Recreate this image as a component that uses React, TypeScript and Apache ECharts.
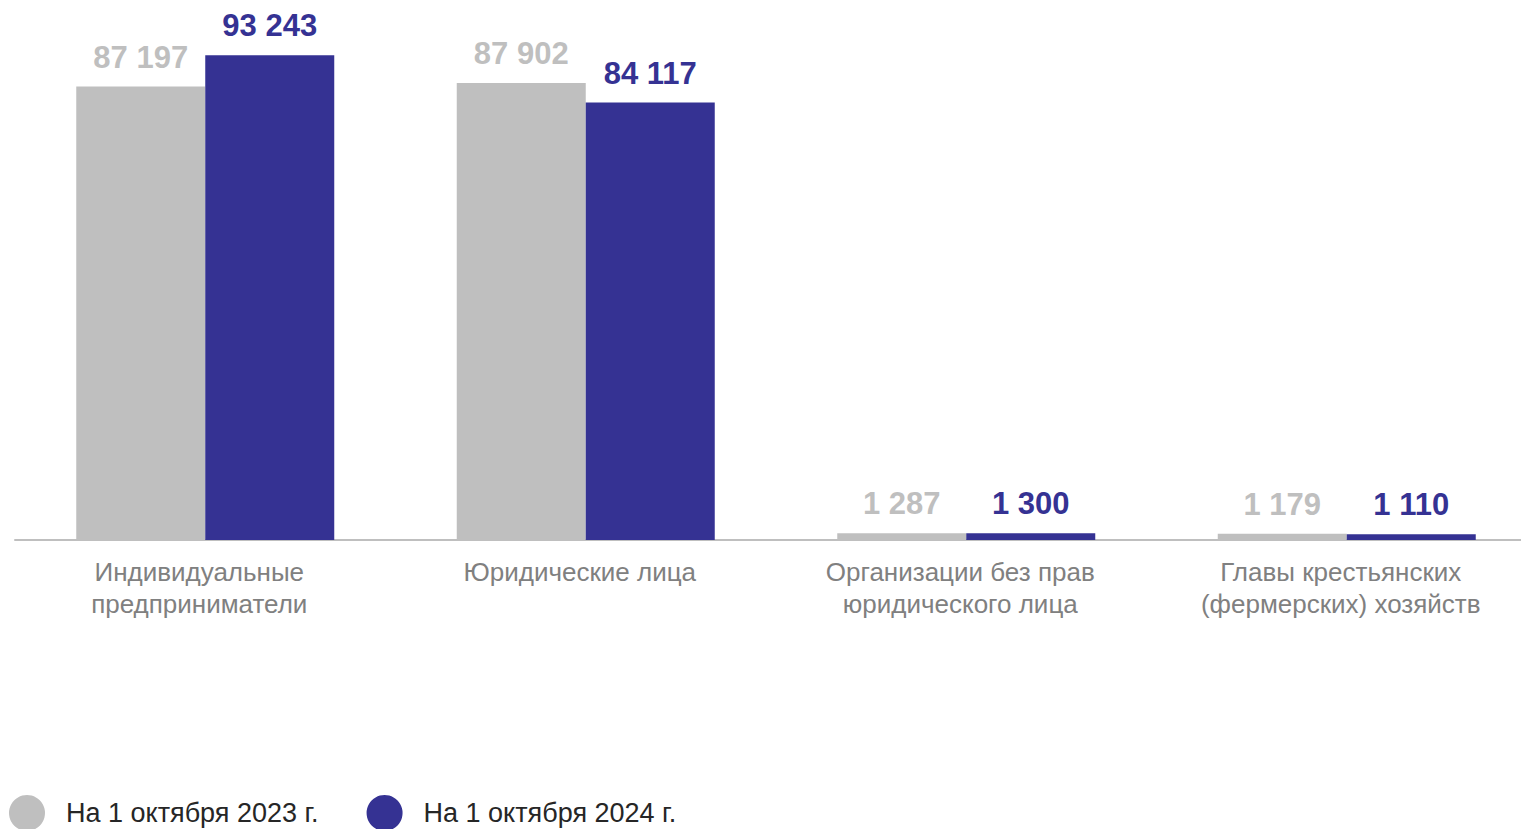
import React, { useEffect, useRef } from "react";
import * as echarts from "echarts";

const categories = [
  "Индивидуальные\nпредприниматели",
  "Юридические лица",
  "Организации без прав\nюридического лица",
  "Главы крестьянских\n(фермерских) хозяйств",
];
const series2023 = [87197, 87902, 1287, 1179];
const series2024 = [93243, 84117, 1300, 1110];
const seriesNames = ["На 1 октября 2023 г.", "На 1 октября 2024 г."];

const GRAY = "#BFBFBF";
const NAVY = "#353293";
const FONT = "'Liberation Sans', Arial, sans-serif";

const fmt = (v: number) => String(v).replace(/\B(?=(\d{3})+(?!\d))/g, " ");

export default function App() {
  const ref = useRef<HTMLDivElement>(null);
  useEffect(() => {
    if (!ref.current) return;
    const chart = echarts.init(ref.current, undefined, { renderer: "svg" });
    const labelBase = {
      show: true,
      position: "top",
      distance: 14,
      fontSize: 31,
      fontWeight: "bold",
      fontFamily: FONT,
      formatter: (p: any) => fmt(p.value),
    };
    chart.setOption({
      animation: false,
      grid: { left: 15, right: 0, top: 20, bottom: 289, containLabel: false },
      legend: {
        left: 4,
        top: 790,
        icon: "circle",
        itemWidth: 36,
        itemHeight: 36,
        itemGap: 48,
        textStyle: {
          fontSize: 27,
          color: "#262626",
          fontFamily: FONT,
          padding: [0, 0, 0, 16],
        },
        data: seriesNames,
      },
      xAxis: {
        type: "category",
        data: categories,
        axisLine: { lineStyle: { color: GRAY, width: 2 } },
        axisTick: { show: false },
        axisLabel: {
          color: "#808080",
          fontSize: 26,
          lineHeight: 32,
          margin: 16,
          padding: [0, 12, 0, 0],
          fontFamily: FONT,
          interval: 0,
        },
      },
      yAxis: {
        type: "value",
        min: 0,
        max: 100000,
        show: false,
        splitLine: { show: false },
      },
      series: [
        {
          name: seriesNames[0],
          type: "bar",
          data: series2023,
          barWidth: 129,
          barGap: "0%",
          itemStyle: { color: GRAY },
          label: { ...labelBase, color: GRAY },
        },
        {
          name: seriesNames[1],
          type: "bar",
          data: series2024,
          barWidth: 129,
          barGap: "0%",
          itemStyle: { color: NAVY },
          label: { ...labelBase, color: NAVY },
        },
      ],
    });
    return () => chart.dispose();
  }, []);
  return (
    <div
      style={{ position: "fixed", left: 0, top: 0, width: 1521, height: 829, overflow: "hidden", background: "#fff" }}
    >
      <div ref={ref} style={{ width: 1537, height: 829 }} />
    </div>
  );
}
